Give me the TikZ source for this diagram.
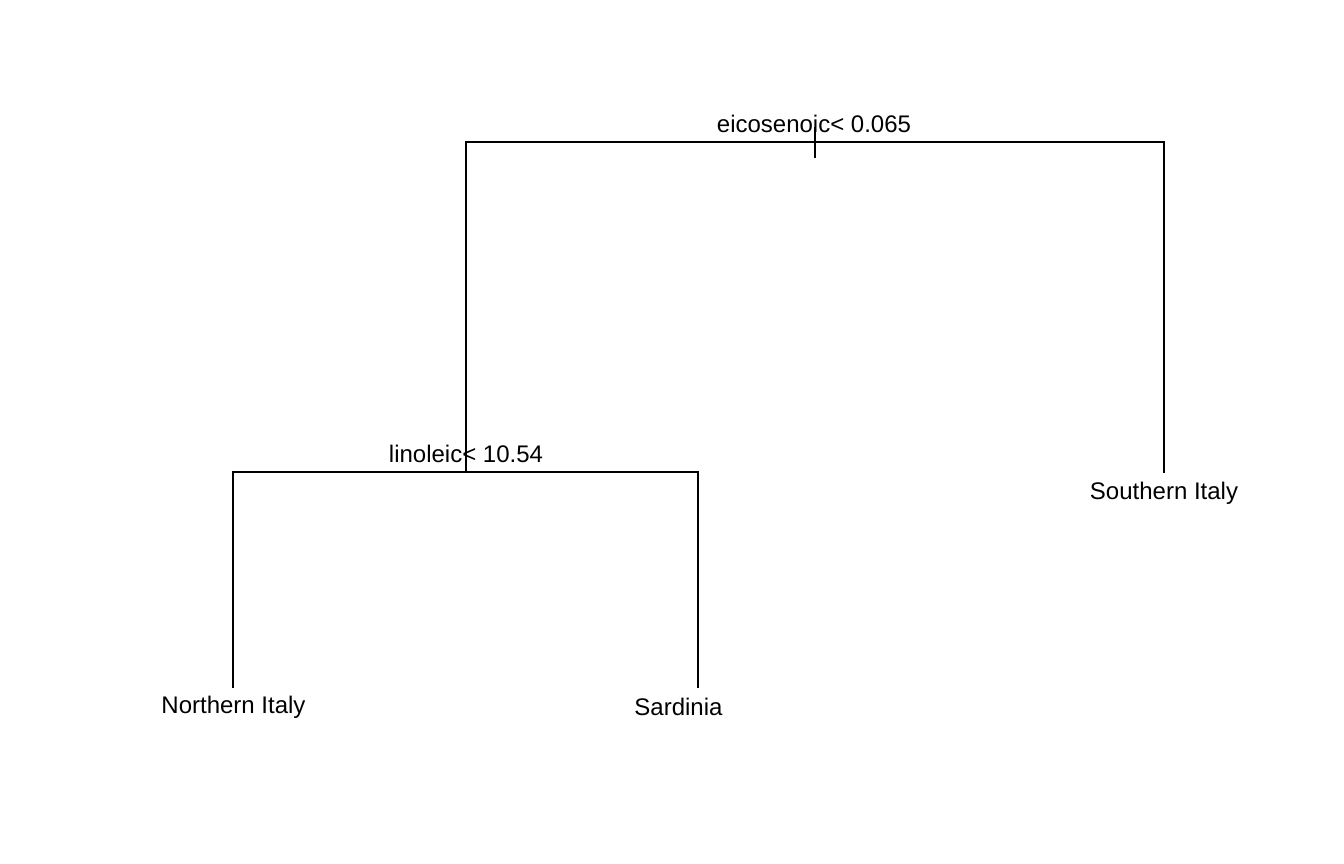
\documentclass[tikz,border=0pt]{standalone}
\usepackage{fontspec}
\setmainfont{Liberation Sans}
\begin{document}
\begin{tikzpicture}[x=1pt,y=-1pt,
  edge/.style={line width=1.6pt,line cap=rect},
  lbl/.style={anchor=base,inner sep=0pt,font=\fontsize{24}{28}\selectfont}]
\useasboundingbox[fill=white] (0,0) rectangle (1344,864);
% split and leaf points
\coordinate (root) at (815,142);
\coordinate (tickT) at (815,128);
\coordinate (tickB) at (815,157);
\coordinate (split2) at (466,472);
\coordinate (south) at (1164,472);
\coordinate (north) at (233,687);
\coordinate (sard) at (698,687);
% connectors
\draw[edge] (split2) |- (root) -| (south);
\draw[edge] (tickT) -- (tickB);
\draw[edge] (north) |- (split2) -| (sard);
% labels
\node[lbl] (l1) at (814,132) {eicosenoic< 0.065};
\node[lbl] (l2) at (466,462) {linoleic< 10.54};
\node[lbl] (l3) at (1164,499) {Southern Italy};
\node[lbl] (l4) at (233.5,713) {Northern Italy};
\node[lbl] (l5) at (678.5,715) {Sardinia};
\end{tikzpicture}
\end{document}
